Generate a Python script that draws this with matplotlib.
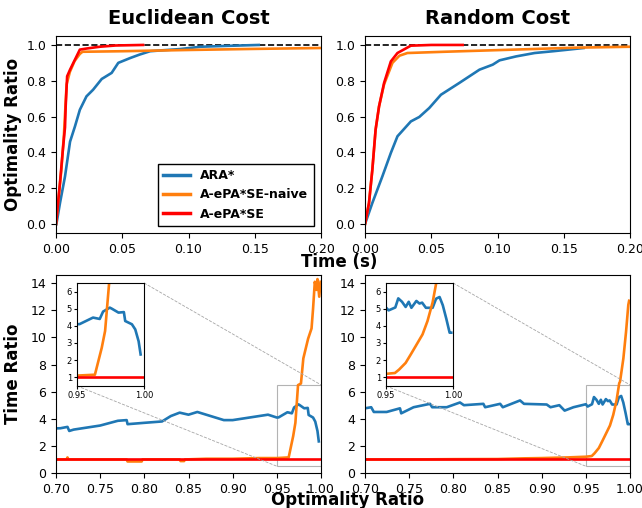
import matplotlib
matplotlib.use("Agg")
import matplotlib.pyplot as plt
import numpy as np
from mpl_toolkits.axes_grid1.inset_locator import mark_inset

BLUE = "#1f77b4"
ORANGE = "#ff7f0e"
RED = "#ff0000"
LABELS = ["ARA*", "A-ePA*SE-naive", "A-ePA*SE"]

# ---- top row: optimality ratio vs time ----
euc_ara_t = [0.0003, 0.003, 0.0068, 0.0106, 0.0143, 0.018, 0.023, 0.028, 0.0345, 0.042, 0.047,
             0.056, 0.063, 0.071, 0.08, 0.0936, 0.109, 0.13, 0.153]
euc_ara_r = [0.0, 0.117, 0.266, 0.46, 0.545, 0.638, 0.713, 0.75, 0.81, 0.844, 0.90,
             0.927, 0.946, 0.965, 0.97, 0.977, 0.99, 0.995, 1.0]
euc_naive_t = [0.0, 0.002, 0.004, 0.006, 0.008, 0.0105, 0.014, 0.018, 0.020, 0.05, 0.10, 0.15, 0.20]
euc_naive_r = [0.0, 0.15, 0.30, 0.50, 0.78, 0.85, 0.91, 0.95, 0.962, 0.965, 0.972, 0.978, 0.983]
euc_epase_t = [0.0, 0.003, 0.005, 0.0068, 0.0073, 0.0084, 0.0106, 0.0143, 0.018, 0.023, 0.033, 0.045, 0.0657]
euc_epase_r = [0.0, 0.23, 0.40, 0.54, 0.657, 0.825, 0.862, 0.918, 0.974, 0.98, 0.99, 0.997, 1.0]

rnd_ara_t = [0.0, 0.0055, 0.0131, 0.0195, 0.0245, 0.0346, 0.041, 0.0485, 0.0573, 0.0712, 0.0788,
             0.0864, 0.0964, 0.1015, 0.114, 0.128, 0.142, 0.165]
rnd_ara_r = [0.0, 0.117, 0.266, 0.397, 0.49, 0.573, 0.598, 0.648, 0.722, 0.788, 0.825,
             0.862, 0.89, 0.914, 0.936, 0.955, 0.965, 0.983]
rnd_naive_t = [0.0, 0.003, 0.0055, 0.008, 0.0106, 0.0144, 0.0207, 0.026, 0.032, 0.06, 0.117, 0.16, 0.20]
rnd_naive_r = [0.0, 0.117, 0.30, 0.527, 0.657, 0.78, 0.90, 0.94, 0.955, 0.962, 0.975, 0.985, 0.99]
rnd_epase_t = [0.0, 0.003, 0.0055, 0.008, 0.0106, 0.0144, 0.0195, 0.0245, 0.0346, 0.05, 0.0737]
rnd_epase_r = [0.0, 0.117, 0.30, 0.527, 0.657, 0.788, 0.908, 0.955, 0.996, 1.0, 1.0]

# ---- bottom row: time ratio vs optimality ratio ----
euc_ara_x = [0.70, 0.705, 0.713, 0.715, 0.72, 0.735, 0.75, 0.77, 0.78, 0.781, 0.80, 0.82, 0.83,
             0.84, 0.85, 0.86, 0.87, 0.88, 0.89, 0.90, 0.91, 0.92, 0.93, 0.94, 0.95, 0.952,
             0.962, 0.967, 0.9695, 0.9745, 0.976, 0.981, 0.985, 0.986, 0.991, 0.9935, 0.996, 0.9975]
euc_ara_y = [3.29, 3.3, 3.4, 3.1, 3.2, 3.35, 3.5, 3.85, 3.9, 3.6, 3.7, 3.8, 4.2,
             4.45, 4.3, 4.5, 4.3, 4.1, 3.9, 3.9, 4.0, 4.1, 4.2, 4.3, 4.09, 4.1,
             4.48, 4.4, 4.83, 5.06, 5.0, 4.77, 4.8, 4.28, 4.09, 3.79, 3.1, 2.33]
euc_naive_x = [0.70, 0.712, 0.713, 0.714, 0.78, 0.781, 0.797, 0.798, 0.84, 0.841, 0.845, 0.846,
               0.87, 0.90, 0.93, 0.95, 0.9634, 0.9685, 0.971, 0.974, 0.9773, 0.98, 0.9854,
               0.9893, 0.991, 0.993, 0.995, 0.996, 0.998, 0.9995]
euc_naive_y = [1.0, 1.0, 1.15, 1.0, 1.0, 0.85, 0.85, 1.0, 1.0, 0.88, 0.88, 1.0,
               1.05, 1.05, 1.1, 1.1, 1.15, 2.72, 3.7, 6.48, 6.6, 8.45, 9.9,
               10.66, 12.1, 14.1, 13.5, 14.3, 13.0, 14.1]
euc_epase_x = [0.70, 1.00]
euc_epase_y = [1.0, 1.0]

rnd_ara_x = [0.70, 0.707, 0.71, 0.7245, 0.7396, 0.741, 0.755, 0.7736, 0.776, 0.7925, 0.8075, 0.812,
             0.834, 0.836, 0.853, 0.856, 0.8755, 0.88, 0.9057, 0.91, 0.92, 0.926, 0.936, 0.95,
             0.952, 0.957, 0.9592, 0.962, 0.9647, 0.967, 0.969, 0.9727, 0.975, 0.977, 0.9798,
             0.9848, 0.9874, 0.99, 0.9924, 0.995, 0.9975, 0.9987]
rnd_ara_y = [4.77, 4.85, 4.5, 4.5, 4.77, 4.4, 4.85, 5.1, 4.85, 4.85, 5.2, 5.0,
             5.1, 4.85, 5.1, 4.85, 5.35, 5.1, 5.05, 4.85, 5.0, 4.6, 4.85, 5.07,
             4.9, 5.07, 5.6, 5.4, 5.1, 5.4, 5.05, 5.45, 5.3, 5.35, 5.05,
             5.05, 5.58, 5.68, 5.2, 4.42, 3.6, 3.6]
rnd_naive_x = [0.70, 0.75, 0.80, 0.85, 0.88, 0.90, 0.93, 0.95, 0.9567, 0.9598, 0.9647, 0.9685,
               0.9722, 0.9773, 0.981, 0.9848, 0.9878, 0.9887, 0.9925, 0.9955, 0.9981, 0.999]
rnd_naive_y = [1.0, 1.0, 1.02, 1.03, 1.08, 1.1, 1.15, 1.2, 1.25, 1.45, 1.84, 2.33,
               2.82, 3.5, 4.28, 5.36, 6.62, 6.73, 8.45, 10.4, 12.4, 12.7]
rnd_epase_x = [0.70, 1.00]
rnd_epase_y = [1.0, 1.0]

fig = plt.figure(figsize=(6.42, 5.08), dpi=100)
W, H = 642, 508


def px_axes(l, t, r, b):
    return fig.add_axes([l / W, (H - b) / H, (r - l) / W, (b - t) / H])


ax_tl = px_axes(56, 36, 321, 233)
ax_tr = px_axes(365, 36, 630, 233)
ax_bl = px_axes(56, 275, 321, 473)
ax_br = px_axes(365, 275, 630, 473)

LW = 1.9

top_sets = [
    (ax_tl, "Euclidean Cost", (euc_ara_t, euc_ara_r), (euc_naive_t, euc_naive_r), (euc_epase_t, euc_epase_r)),
    (ax_tr, "Random Cost", (rnd_ara_t, rnd_ara_r), (rnd_naive_t, rnd_naive_r), (rnd_epase_t, rnd_epase_r)),
]
for ax, title, a, n, e in top_sets:
    ax.axhline(1.0, color="black", ls="--", lw=1.2, zorder=1)
    ax.plot(a[0], a[1], color=BLUE, lw=LW, label=LABELS[0])
    ax.plot(n[0], n[1], color=ORANGE, lw=LW, label=LABELS[1])
    ax.plot(e[0], e[1], color=RED, lw=LW, label=LABELS[2])
    ax.set_xlim(0, 0.2)
    ax.set_ylim(-0.05, 1.05)
    ax.set_xticks([0.0, 0.05, 0.10, 0.15, 0.20])
    ax.set_xticklabels(["0.00", "0.05", "0.10", "0.15", "0.20"])
    ax.set_yticks([0.0, 0.2, 0.4, 0.6, 0.8, 1.0])
    ax.tick_params(labelsize=9)
    ax.set_title(title, fontsize=14, fontweight="bold", pad=9)

leg = ax_tl.legend(loc="lower right", prop={"weight": "bold", "size": 9}, fancybox=False,
                   edgecolor="black", framealpha=1, handlelength=2.2, borderaxespad=0.6)
for line in leg.get_lines():
    line.set_linewidth(2.5)

bottom_sets = [
    (ax_bl, (euc_ara_x, euc_ara_y), (euc_naive_x, euc_naive_y), (euc_epase_x, euc_epase_y)),
    (ax_br, (rnd_ara_x, rnd_ara_y), (rnd_naive_x, rnd_naive_y), (rnd_epase_x, rnd_epase_y)),
]
for ax, a, n, e in bottom_sets:
    axins = ax.inset_axes([0.079, 0.44, 0.253, 0.52])
    for target in (ax, axins):
        target.plot(a[0], a[1], color=BLUE, lw=LW)
        target.plot(n[0], n[1], color=ORANGE, lw=LW)
        target.plot(e[0], e[1], color=RED, lw=LW)
    ax.set_xlim(0.7, 1.0)
    ax.set_ylim(0, 14.6)
    ax.set_xticks(np.arange(0.70, 1.001, 0.05))
    ax.set_xticklabels(["0.70", "0.75", "0.80", "0.85", "0.90", "0.95", "1.00"])
    ax.set_yticks(range(0, 15, 2))
    ax.tick_params(labelsize=9)
    axins.set_xlim(0.95, 1.0)
    axins.set_ylim(0.5, 6.5)
    axins.set_xticks([0.95, 1.0])
    axins.set_xticklabels(["0.95", "1.00"])
    axins.set_yticks(range(1, 7))
    axins.tick_params(labelsize=6, length=2, pad=1.5)
    rect, c1, c2 = mark_inset(ax, axins, loc1=1, loc2=3, fc="none", ec="0.7", lw=0.8)
    for c in (c1, c2):
        c.set_linestyle("--")
        c.set_linewidth(0.6)
        c.set_edgecolor("0.65")

fig.text(339 / W, 1 - 262 / H, "Time (s)", ha="center", va="center", fontsize=12, fontweight="bold")
fig.text(348 / W, 1 - 500 / H, "Optimality Ratio", ha="center", va="center", fontsize=12, fontweight="bold")
fig.text(13 / W, 1 - 134 / H, "Optimality Ratio", ha="center", va="center", rotation=90,
         fontsize=12, fontweight="bold")
fig.text(13 / W, 1 - 374 / H, "Time Ratio", ha="center", va="center", rotation=90,
         fontsize=12, fontweight="bold")

fig.savefig("out.png", dpi=100)
